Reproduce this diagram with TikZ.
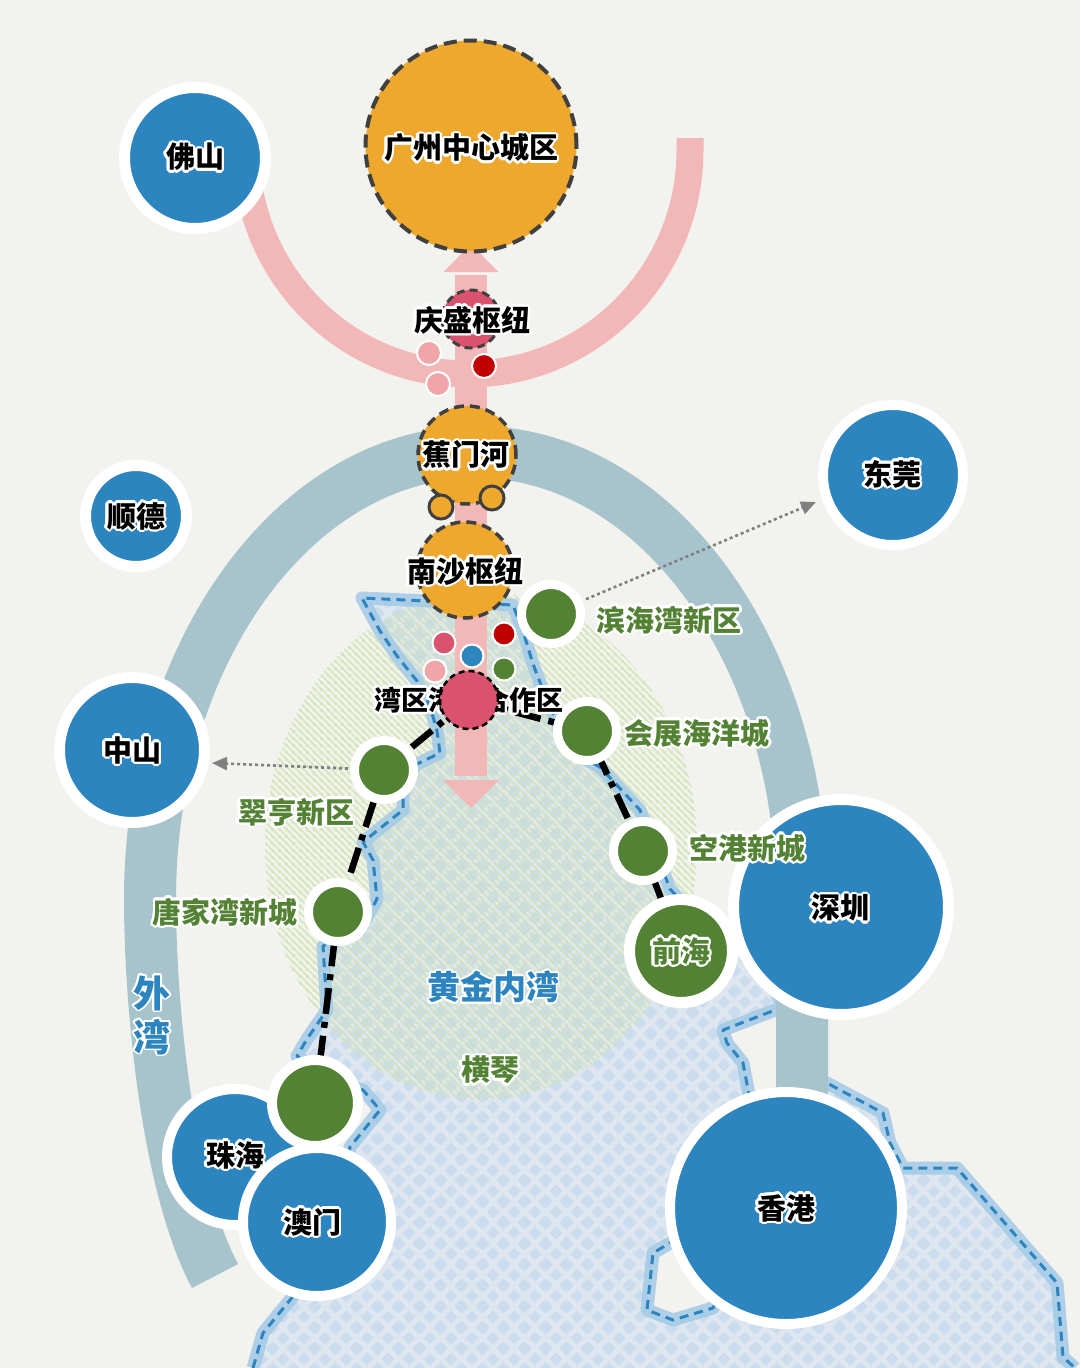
\documentclass[tikz,border=0pt]{standalone}
\usepackage{fontspec}
\setmainfont{Noto Sans CJK SC}
\usetikzlibrary{arrows.meta,patterns,calc}

\definecolor{bg}{HTML}{F2F2EE}
\definecolor{cblue}{HTML}{2D85C0}
\definecolor{cgreen}{HTML}{548235}
\definecolor{corange}{HTML}{EDA82D}
\definecolor{cpink}{HTML}{F2B8B8}
\definecolor{cband}{HTML}{A7C3CC}
\definecolor{cred}{HTML}{D9536E}
\definecolor{cdred}{HTML}{C00000}
\definecolor{clpink}{HTML}{F0A5A8}
\definecolor{dgray}{HTML}{404040}
\definecolor{arrgray}{HTML}{808080}
\definecolor{water}{HTML}{DEE7F0}
\definecolor{wdiam}{HTML}{CADCEE}
\definecolor{halo}{HTML}{A3CAE6}
\definecolor{hatch}{HTML}{CFE2AE}

\pgfdeclarepatternformonly{bluediamonds}{\pgfqpoint{0pt}{0pt}}{\pgfqpoint{21pt}{21pt}}{\pgfqpoint{21pt}{21pt}}{%
  \pgfpathmoveto{\pgfqpoint{10.5pt}{4pt}}\pgfpathlineto{\pgfqpoint{17pt}{10.5pt}}\pgfpathlineto{\pgfqpoint{10.5pt}{17pt}}\pgfpathlineto{\pgfqpoint{4pt}{10.5pt}}\pgfpathclose
  \pgfpathmoveto{\pgfqpoint{0pt}{-6.5pt}}\pgfpathlineto{\pgfqpoint{6.5pt}{0pt}}\pgfpathlineto{\pgfqpoint{0pt}{6.5pt}}\pgfpathlineto{\pgfqpoint{-6.5pt}{0pt}}\pgfpathclose
  \pgfpathmoveto{\pgfqpoint{21pt}{-6.5pt}}\pgfpathlineto{\pgfqpoint{27.5pt}{0pt}}\pgfpathlineto{\pgfqpoint{21pt}{6.5pt}}\pgfpathlineto{\pgfqpoint{14.5pt}{0pt}}\pgfpathclose
  \pgfpathmoveto{\pgfqpoint{0pt}{14.5pt}}\pgfpathlineto{\pgfqpoint{6.5pt}{21pt}}\pgfpathlineto{\pgfqpoint{0pt}{27.5pt}}\pgfpathlineto{\pgfqpoint{-6.5pt}{21pt}}\pgfpathclose
  \pgfpathmoveto{\pgfqpoint{21pt}{14.5pt}}\pgfpathlineto{\pgfqpoint{27.5pt}{21pt}}\pgfpathlineto{\pgfqpoint{21pt}{27.5pt}}\pgfpathlineto{\pgfqpoint{14.5pt}{21pt}}\pgfpathclose
  \pgfusepath{fill}}

\pgfdeclarepatternformonly{greenstripes}{\pgfqpoint{0pt}{0pt}}{\pgfqpoint{7pt}{7pt}}{\pgfqpoint{7pt}{7pt}}{%
  \pgfsetlinewidth{1.8pt}
  \pgfpathmoveto{\pgfqpoint{-1pt}{8pt}}\pgfpathlineto{\pgfqpoint{8pt}{-1pt}}
  \pgfpathmoveto{\pgfqpoint{-1pt}{1pt}}\pgfpathlineto{\pgfqpoint{1pt}{-1pt}}
  \pgfpathmoveto{\pgfqpoint{6pt}{8pt}}\pgfpathlineto{\pgfqpoint{8pt}{6pt}}
  \pgfusepath{stroke}}

\newcommand\glowtext[5][2.5pt]{%
  \foreach \gang in {0,22.5,...,337.5}{\node[#4,text=white] at ($(#3)+(\gang:#1)$) {#5};}%
  \node[#4] (#2) at (#3) {#5};}

\tikzset{
  lbl/.style={inner sep=0pt, font=\bfseries\fontsize{29}{29}\selectfont, text=black},
  glbl/.style={lbl, text=cgreen},
  citydisc/.style={circle, inner sep=0pt, fill=cblue, draw=white},
  greendisc/.style={circle, inner sep=0pt, fill=cgreen, draw=white},
  hubdisc/.style={circle, inner sep=0pt, fill=corange, draw=dgray, line width=3.5pt, dash pattern=on 10pt off 6pt},
  smalldot/.style={circle, inner sep=0pt, draw=white, line width=2pt, minimum size=24pt},
  rail/.style={line width=6.5pt, black, dash pattern=on 26pt off 8pt on 6pt off 8pt},
  dotarrow/.style={draw=arrgray, line width=2.6pt, dash pattern=on 3pt off 3pt, -{Triangle[length=15pt,width=13pt]}},
  coasthalo/.style={draw=halo, line width=13pt, line join=round, opacity=0.85},
  coastdash/.style={draw=cblue, line width=3pt, dash pattern=on 9pt off 6pt, line join=round},
  outerband/.style={draw=cband, line width=52pt},
  pinkband/.style={draw=cpink, line width=27pt},
}

\def\waterpath{(253,1368) -- (263,1333) -- (290,1300) -- (330,1250) -- (350,1147) -- (380,1110) -- (363,1090) -- (330,1080) -- (297,1056) -- (307,1039) -- (327,1010) -- (323,946) -- (360,930) -- (377,899) -- (373,860) -- (363,842) -- (403,810) -- (403,781) -- (417,764) -- (440,753) -- (437,731) -- (430,706) -- (417,681) -- (397,656) -- (380,631) -- (362,598) -- (513,605) -- (523,631) -- (533,664) -- (541,685) -- (560,730) -- (573,753) -- (600,767) -- (640,810) -- (670,889) -- (690,910) -- (760,960) -- (783,1007) -- (723,1030) -- (727,1043) -- (743,1063) -- (750,1100) -- (790,1130) -- (800,1085) -- (827,1083) -- (883,1113) -- (890,1143) -- (903,1168) -- (957,1168) -- (1057,1283) -- (1063,1357) -- (1075,1368)}
\def\lantaupath{(705,1228) -- (670,1243) -- (653,1253) -- (647,1310) -- (673,1320) -- (713,1308) -- (725,1285)}

\begin{document}
\begin{tikzpicture}[x=1pt,y=-1pt]
\useasboundingbox (0,0) rectangle (1080,1368);
\fill[bg] (0,0) rectangle (1080,1368);

% ---------- named positions ----------
\coordinate (gz) at (471,146);
\coordinate (fs) at (195,158);
\coordinate (sd) at (136,516);
\coordinate (dg) at (893,475);
\coordinate (zs) at (132,750);
\coordinate (sz) at (841,907);
\coordinate (hk) at (786,1208);
\coordinate (zh) at (235,1157);
\coordinate (mo) at (317,1222);
\coordinate (zhg) at (315,1103);
\coordinate (qh) at (681,951);
\coordinate (bh) at (551,614);
\coordinate (hz) at (587,731);
\coordinate (kg) at (643,851);
\coordinate (ch) at (384,770);
\coordinate (tj) at (338,912);
\coordinate (qs) at (471,319);
\coordinate (jm) at (467,455);
\coordinate (ns) at (465,570);
\coordinate (hub) at (469,700);
\coordinate (dgtip) at (816,502);
\coordinate (zstip) at (212,763);

% ---------- water ----------
\fill[water] \waterpath -- cycle;
\fill[pattern=bluediamonds, pattern color=wdiam] \waterpath -- cycle;
\fill[bg] \lantaupath -- cycle;

% ---------- hatched zone ----------
\fill[pattern=greenstripes, pattern color=hatch, fill opacity=0.8] (481,846) ellipse [x radius=216, y radius=254];

% ---------- coastline ----------
\draw[coasthalo] \waterpath;
\draw[coasthalo] \lantaupath;
\draw[coastdash] \waterpath;
\draw[coastdash] \lantaupath;

% ---------- outer bay band ----------
\draw[outerband] (802,1110) -- (802,899) arc[start angle=0, end angle=-180, x radius=326, y radius=447]
   .. controls (150,1000) and (166,1184) .. (215,1276);

% ---------- pink arc and axis ----------
\draw[pinkband] (690,138) -- (690,150) arc[start angle=0, end angle=180, x radius=222, y radius=224];
\fill[cpink] (455,275) rectangle (487,776);
\fill[cpink] (443.5,272) -- (498.5,272) -- (471,244) -- cycle;
\fill[cpink] (443,780) -- (499,780) -- (471,808) -- cycle;

% ---------- rail lines ----------
\draw[rail] (hub) -- (ch) -- (tj) -- (zhg);
\draw[rail] (hub) -- (hz) -- (kg) -- (qh);

% ---------- dotted arrows ----------
\draw[dotarrow, shorten <=38pt] (bh) -- (dgtip);
\draw[dotarrow, shorten <=36pt] (ch) -- (zstip);

% ---------- city discs ----------
\node[citydisc, minimum size=141pt, line width=11pt] (fsN) at (fs) {};
\node[citydisc, minimum size=101pt, line width=11pt] (sdN) at (sd) {};
\node[citydisc, minimum size=140pt, line width=10pt] (dgN) at (dg) {};
\node[citydisc, minimum size=145pt, line width=11pt] (zsN) at (zs) {};
\node[citydisc, minimum size=215pt, line width=11pt] (szN) at (sz) {};
\node[citydisc, minimum size=232pt, line width=10pt] (hkN) at (hk) {};
\node[citydisc, minimum size=136pt, line width=10pt] (zhN) at (zh) {};
\node[greendisc, minimum size=86pt, line width=10pt] (zhgN) at (zhg) {};
\node[citydisc, minimum size=148pt, line width=10pt] (moN) at (mo) {};

\node[greendisc, minimum size=103pt, line width=11pt] (qhN) at (qh) {};
\node[greendisc, minimum size=59pt, line width=9pt] (bhN) at (bh) {};
\node[greendisc, minimum size=59pt, line width=9pt] (hzN) at (hz) {};
\node[greendisc, minimum size=59pt, line width=9pt] (kgN) at (kg) {};
\node[greendisc, minimum size=59pt, line width=9pt] (chN) at (ch) {};
\node[greendisc, minimum size=59pt, line width=9pt] (tjN) at (tj) {};

% ---------- hubs on the axis ----------
\node[hubdisc, minimum size=211pt, line width=4pt, dash pattern=on 13pt off 7pt] (gzN) at (gz) {};
\node[circle, inner sep=0pt, fill=cred, draw=dgray, line width=3pt, dash pattern=on 8pt off 5pt, minimum size=58pt] (qsN) at (qs) {};
\node[smalldot, fill=clpink] (qd1) at (429,353) {};
\node[smalldot, fill=clpink] (qd2) at (438,384) {};
\node[smalldot, fill=cdred] (qd3) at (484,366) {};
\node[hubdisc, minimum size=98pt] (jmN) at (jm) {};
\node[circle, inner sep=0pt, fill=corange, draw=dgray, line width=3pt, minimum size=24pt] (jd1) at (441,507) {};
\node[circle, inner sep=0pt, fill=corange, draw=dgray, line width=3pt, minimum size=24pt] (jd2) at (492,498) {};
\node[hubdisc, minimum size=96pt] (nsN) at (ns) {};

\node[smalldot, fill=cred, minimum size=23pt] (hd1) at (444,643) {};
\node[smalldot, fill=cdred, minimum size=23pt] (hd2) at (504,634) {};
\node[smalldot, fill=cblue, minimum size=23pt] (hd3) at (472,656) {};
\node[smalldot, fill=clpink, minimum size=23pt] (hd4) at (435,671) {};
\node[smalldot, fill=cgreen, minimum size=23pt] (hd5) at (504,669) {};

\glowtext{hubL}{468.5,700}{lbl, font=\bfseries\fontsize{27}{27}\selectfont}{湾区港澳合作区}
\node[circle, inner sep=0pt, fill=cred, draw=black, line width=2.5pt, dash pattern=on 6pt off 4pt, minimum size=58pt] (hubN) at (hub) {};

% ---------- labels ----------
\glowtext{gzL}{471,148}{lbl}{广州中心城区}
\glowtext{fsL}{195,157}{lbl}{佛山}
\glowtext{sdL}{136,516}{lbl}{顺德}
\glowtext{dgL}{892,474}{lbl}{东莞}
\glowtext{zsL}{132,750}{lbl}{中山}
\glowtext{szL}{840,908}{lbl}{深圳}
\glowtext{hkL}{786,1208}{lbl}{香港}
\glowtext{zhL}{235,1155}{lbl}{珠海}
\glowtext{moL}{312,1222}{lbl}{澳门}
\glowtext{qsL}{472,320}{lbl}{庆盛枢纽}
\glowtext{jmL}{466,455}{lbl}{蕉门河}
\glowtext{nsL}{465,571}{lbl}{南沙枢纽}

\glowtext{bhL}{669,620}{glbl}{滨海湾新区}
\glowtext{hzL}{697,733}{glbl}{会展海洋城}
\glowtext{kgL}{747,848}{glbl}{空港新城}
\glowtext{chL}{296,812}{glbl}{翠亨新区}
\glowtext{tjL}{225,912}{glbl}{唐家湾新城}
\glowtext{qhL}{681,951}{glbl}{前海}
\glowtext{hqL}{490,1070}{glbl}{横琴}
\glowtext[1.8pt]{hjL}{493,987}{lbl, text=cblue, font=\bfseries\fontsize{33}{33}\selectfont}{黄金内湾}
\glowtext[1.8pt]{wwL}{152,1015}{lbl, text=cblue, align=center, font=\bfseries\fontsize{37}{44}\selectfont}{外\\湾}
\end{tikzpicture}
\end{document}
